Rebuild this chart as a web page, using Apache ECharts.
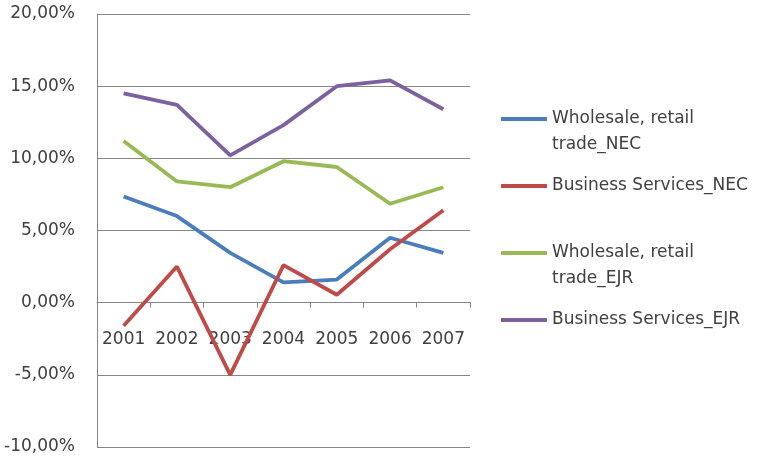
<!DOCTYPE html>
<html><head><meta charset="utf-8">
<script src="https://cdn.jsdelivr.net/npm/echarts@6/dist/echarts.min.js"></script>
<style>html,body{margin:0;padding:0;background:#fff}#c{width:758px;height:459px}</style>
</head><body><div id="c"></div>
<script>
const years = ['2001','2002','2003','2004','2005','2006','2007'];
const wholesaleNEC = [7.35, 6.0, 3.45, 1.4, 1.6, 4.5, 3.45];
const businessNEC = [-1.6, 2.5, -5.0, 2.6, 0.55, 3.7, 6.4];
const wholesaleEJR = [11.2, 8.4, 8.0, 9.8, 9.4, 6.85, 8.0];
const businessEJR = [14.5, 13.7, 10.2, 12.3, 15.0, 15.4, 13.4];
const names = ['Wholesale, retail\ntrade_NEC','Business Services_NEC','Wholesale, retail\ntrade_EJR','Business Services_EJR'];
const colors = ['#4a7ebb','#be4b48','#98b954','#7d60a0'];
const seriesData = [wholesaleNEC, businessNEC, wholesaleEJR, businessEJR];

const font = 'DejaVu Sans';
const txt = '#404040';
function legendFor(i, top, twoLine){
  return {
    data:[names[i]], left:501, top:top, padding:0,
    icon:'rect', itemWidth:46, itemHeight:4,
    formatter: twoLine ? (n => '\n' + n) : (n => n),
    textStyle:{fontFamily:font, fontSize:17, color:txt, lineHeight:26}
  };
}
const chart = echarts.init(document.getElementById('c'));
chart.setOption({
  animation:false,
  backgroundColor:'#fff',
  grid:{left:97, right:288, top:14, bottom:12, containLabel:false, outerBoundsMode:'none'},
  legend:[legendFor(0,80,true), legendFor(1,173,false), legendFor(2,214,true), legendFor(3,307,false)],
  xAxis:{type:'category', data:years, boundaryGap:true,
    axisLine:{onZero:true, lineStyle:{color:'#868686', width:1}},
    axisTick:{show:true, length:5, lineStyle:{color:'#868686'}},
    axisLabel:{fontFamily:font, fontSize:17, color:txt, margin:-116, interval:0},
    splitLine:{show:false}},
  yAxis:{type:'value', min:-10, max:20, interval:5,
    axisLine:{show:true, lineStyle:{color:'#868686'}},
    axisTick:{show:false},
    axisLabel:{fontFamily:font, fontSize:17, color:txt, margin:22,
      formatter:v=>v.toFixed(2).replace('.',',')+'%'},
    splitLine:{show:true, lineStyle:{color:'#868686', width:1}}},
  series: seriesData.map((d,i)=>({
    name:names[i], type:'line', data:d, showSymbol:false, symbol:'none',
    lineStyle:{color:colors[i], width:3.8}, itemStyle:{color:colors[i]}
  }))
});
</script></body></html>
